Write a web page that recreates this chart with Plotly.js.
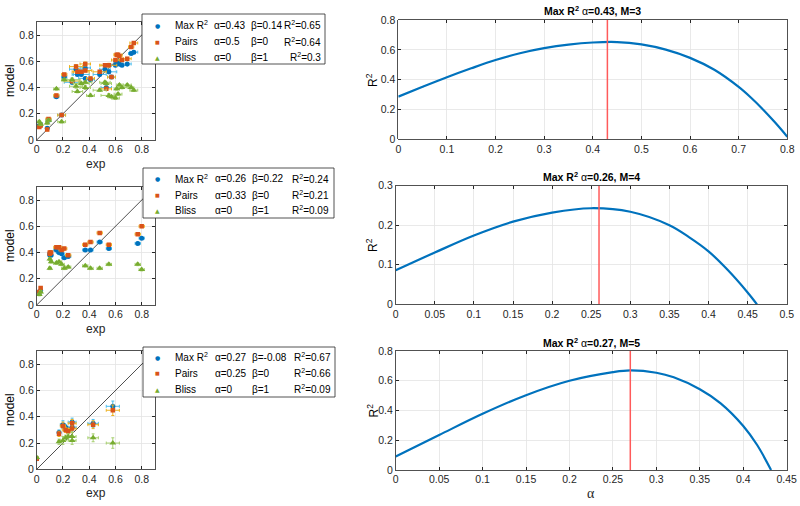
<!DOCTYPE html>
<html><head><meta charset="utf-8">
<script src="https://cdn.plot.ly/plotly-3.0.1.min.js"></script>
<style>body{margin:0;background:#fff}#c{width:800px;height:506px}</style>
</head><body><div id="c"></div>
<script>
// ---- scatter data (exp vs model) ----
const exp1    = [0.02,0.03,0.08,0.09,0.15,0.19,0.21,0.27,0.30,0.31,0.34,0.37,0.37,0.41,0.48,0.52,0.53,0.55,0.57,0.60,0.61,0.62,0.63,0.65,0.69,0.72,0.74];
const blue1   = [0.11,0.12,0.09,0.15,0.33,0.19,0.48,0.44,0.54,0.50,0.50,0.55,0.47,0.46,0.50,0.54,0.40,0.52,0.48,0.57,0.59,0.60,0.58,0.57,0.58,0.66,0.67];
const orange1 = [0.10,0.11,0.08,0.16,0.34,0.19,0.50,0.45,0.56,0.52,0.52,0.58,0.53,0.47,0.52,0.57,0.39,0.57,0.48,0.61,0.65,0.65,0.64,0.61,0.62,0.71,0.74];
const green1  = [0.14,0.12,0.13,0.15,0.39,0.14,0.46,0.46,0.41,0.37,0.43,0.40,0.44,0.34,0.38,0.44,0.43,0.34,0.33,0.32,0.39,0.35,0.42,0.40,0.42,0.40,0.38];
const xErr1   = [0.01,0.01,0.01,0.02,0.02,0.03,0.02,0.06,0.05,0.04,0.06,0.04,0.05,0.03,0.05,0.04,0.04,0.06,0.03,0.03,0.02,0.03,0.02,0.04,0.03,0.02,0.03];
const yErr1   = [0.01,0.01,0.01,0.01,0.01,0.01,0.01,0.015,0.015,0.01,0.01,0.015,0.01,0.01,0.01,0.01,0.01,0.015,0.01,0.01,0.01,0.01,0.01,0.01,0.01,0.01,0.01];

const exp2    = [0.02,0.03,0.10,0.10,0.11,0.15,0.17,0.19,0.21,0.24,0.37,0.41,0.48,0.55,0.77,0.80];
const blue2   = [0.09,0.11,0.39,0.38,0.38,0.42,0.40,0.39,0.36,0.37,0.42,0.42,0.48,0.43,0.47,0.51];
const orange2 = [0.10,0.13,0.40,0.39,0.40,0.44,0.44,0.42,0.43,0.38,0.46,0.48,0.55,0.46,0.54,0.60];
const green2  = [0.08,0.10,0.35,0.28,0.33,0.32,0.33,0.31,0.28,0.29,0.30,0.28,0.28,0.31,0.31,0.27];
const xErr2   = [0.01,0.01,0.01,0.01,0.01,0.02,0.02,0.02,0.02,0.02,0.02,0.02,0.02,0.02,0.02,0.02];
const yErr2   = [0.01,0.01,0.01,0.01,0.01,0.01,0.01,0.01,0.01,0.01,0.01,0.01,0.01,0.01,0.01,0.01];

const exp3    = [0.00,0.17,0.20,0.22,0.24,0.27,0.27,0.43,0.58];
const blue3   = [0.08,0.28,0.34,0.32,0.30,0.36,0.32,0.35,0.48];
const orange3 = [0.08,0.27,0.33,0.30,0.29,0.35,0.31,0.34,0.45];
const green3  = [0.09,0.21,0.22,0.24,0.25,0.25,0.22,0.24,0.20];
const xErr3   = [0.01,0.01,0.02,0.02,0.02,0.03,0.03,0.04,0.05];
const yErr3   = [0.01,0.02,0.03,0.02,0.02,0.03,0.03,0.03,0.04];

const diag = [0, 0.9];

// ---- R^2 vs alpha curves ----
const alpha1 = [0,0.05,0.1,0.15,0.2,0.25,0.3,0.35,0.4,0.45,0.5,0.55,0.6,0.65,0.7,0.725,0.75,0.775,0.8];
const r2c1   = [0.286,0.352,0.416,0.476,0.532,0.577,0.611,0.635,0.649,0.652,0.636,0.601,0.546,0.466,0.351,0.280,0.200,0.112,0.017];
const alpha2 = [0,0.05,0.1,0.15,0.2,0.25,0.3,0.35,0.375,0.4,0.425,0.45,0.462];
const r2c2   = [0.086,0.131,0.174,0.209,0.232,0.243,0.234,0.200,0.170,0.134,0.086,0.030,0.0];
const alpha3 = [0,0.05,0.1,0.15,0.2,0.25,0.27,0.3,0.32,0.35,0.374,0.4,0.416,0.432];
const r2c3   = [0.09,0.235,0.378,0.503,0.600,0.658,0.670,0.654,0.623,0.543,0.448,0.296,0.168,0.0];
const alphaMax = [0.43, 0.26, 0.27];
const Mvals = [3, 4, 5];

// legend table values
const seriesNames = ['Max R<sup>2</sup>', 'Pairs', 'Bliss'];
const legAlpha = [['0.43','0.5','0'], ['0.26','0.33','0'], ['0.27','0.25','0']];
const legBeta  = [['0.14','0','1'], ['0.22','0','1'], ['-0.08','0','1']];
const legR2    = [['0.65','0.64','0.3'], ['0.24','0.21','0.09'], ['0.67','0.66','0.09']];

const C_BLUE='#0072BD', C_ORANGE='#D95319', C_GREEN='#77AC30';
const E_BLUE='#4DBEEE', E_ORANGE='#EDB120', E_GREEN='#A6CF6E';
const W=800, H=506;
const px = x => x/W, py = y => 1 - y/H;

const traces = [];
function scat(ax, x, ys, xe, ye){
  const xa='x'+(ax===1?'':ax), ya='y'+(ax===1?'':ax);
  traces.push({x:diag, y:diag, xaxis:xa, yaxis:ya, mode:'lines', line:{color:'#222',width:0.8}, hoverinfo:'skip'});
  const spec=[[ys[0],C_BLUE,E_BLUE,'circle',5],[ys[1],C_ORANGE,E_ORANGE,'square',4.5],[ys[2],C_GREEN,E_GREEN,'triangle-up',6]];
  spec.forEach(s=>{
    traces.push({x:x, y:s[0], xaxis:xa, yaxis:ya, mode:'markers', type:'scatter',
      marker:{color:s[1], symbol:s[3], size:s[4]},
      error_x:{type:'data', array:xe, color:s[2], thickness:1, width:1.5},
      error_y:{type:'data', array:ye, color:s[2], thickness:1, width:1.5},
      cliponaxis:true});
  });
}
scat(1, exp1, [blue1,orange1,green1], xErr1, yErr1);
scat(2, exp2, [blue2,orange2,green2], xErr2, yErr2);
scat(3, exp3, [blue3,orange3,green3], xErr3, yErr3);

const curves=[[alpha1,r2c1,0.8],[alpha2,r2c2,0.3],[alpha3,r2c3,0.8]];
curves.forEach((c,i)=>{
  const n=4+i;
  traces.push({x:c[0], y:c[1], xaxis:'x'+n, yaxis:'y'+n, mode:'lines', line:{color:C_BLUE,width:2.2,shape:'spline',smoothing:1}});
  traces.push({x:[alphaMax[i],alphaMax[i]], y:[0,c[2]], xaxis:'x'+n, yaxis:'y'+n, mode:'lines', line:{color:'#FF5A5A',width:1.5}});
});

const tickFont={family:'Liberation Sans, Arial, sans-serif', size:10.5, color:'#262626'};
function ax(domain, range, dtick, anchor){
  return {domain:domain, range:range, dtick:dtick, tick0:0, anchor:anchor, showline:true, mirror:'ticks',
    linecolor:'#262626', linewidth:0.8, ticks:'inside', ticklen:3, tickcolor:'#262626',
    showgrid:true, gridcolor:'#e3e3e3', gridwidth:0.8, zeroline:false, tickfont:tickFont, fixedrange:true};
}
const L=[px(36.7), px(154.8)];
const layout={width:W, height:H, margin:{l:0,r:0,t:0,b:0}, showlegend:false, paper_bgcolor:'#fff', plot_bgcolor:'#fff',
  xaxis: ax(L,[0,0.9],0.2,'y'),  yaxis: ax([py(140),py(22)],[0,0.9],0.2,'x'),
  xaxis2:ax(L,[0,0.9],0.2,'y2'), yaxis2:ax([py(305),py(187)],[0,0.9],0.2,'x2'),
  xaxis3:ax(L,[0,0.9],0.2,'y3'), yaxis3:ax([py(469.3),py(351.2)],[0,0.9],0.2,'x3'),
  xaxis4:ax([px(398.3),px(787.3)],[0,0.8],0.1,'y4'), yaxis4:ax([py(139.3),py(20)],[0,0.8],0.2,'x4'),
  xaxis5:ax([px(395.7),px(786.7)],[0,0.5],0.05,'y5'), yaxis5:ax([py(304.3),py(185.7)],[0,0.3],0.1,'x5'),
  xaxis6:ax([px(395.7),px(786.7)],[0,0.45],0.05,'y6'), yaxis6:ax([py(470),py(351)],[0,0.8],0.2,'x6'),
  shapes:[], annotations:[]};

const F='Liberation Sans, Arial, sans-serif';
function ann(x,y,text,o){
  layout.annotations.push(Object.assign({xref:'paper',yref:'paper',x:px(x),y:py(y),text:text,showarrow:false,
    xanchor:'center',yanchor:'middle',font:{family:F,size:10,color:'#000'}},o||{}));
}
// axis labels
[[81,164],[246,329],[410,493]].forEach(p=>{
  ann(10,p[0],'model',{textangle:-90,font:{family:F,size:12,color:'#000'}});
  ann(95.7,p[1],'exp',{font:{family:F,size:12,color:'#262626'}});
});
[[80],[245],[410.5]].forEach(p=>ann(372,p[0],'R<sup>2</sup>',{textangle:-90,font:{family:F,size:12,color:'#000'}}));
ann(591,493,'α',{font:{family:'Liberation Serif, serif',size:14,color:'#262626'}});
// titles
[[592.8,11],[591.2,176],[591.2,342.7]].forEach((p,i)=>{
  ann(p[0],p[1],'<b>Max R<sup>2</sup></b> α<b>='+alphaMax[i]+', M='+Mvals[i]+'</b>',{font:{family:F,size:10.5,color:'#000'}});
});
// legend boxes
const legs=[{x0:142,x1:325,y0:14,y1:64,rows:[25,42,57],aX:212,bX:249,rX:323},
            {x0:143,x1:334,y0:168,y1:218,rows:[179,195,210],aX:213,bX:250,rX:331},
            {x0:143,x1:335,y0:347,y1:397,rows:[357,373,389],aX:213,bX:250,rX:333}];
const mk=[['●',C_BLUE,6],['■',C_ORANGE,5],['▲',C_GREEN,6]];
legs.forEach((g,k)=>{
  layout.shapes.push({type:'rect',xref:'paper',yref:'paper',x0:px(g.x0),x1:px(g.x1),y0:py(g.y1),y1:py(g.y0),
    fillcolor:'#fff',line:{color:'#262626',width:0.8},layer:'above'});
  g.rows.forEach((ry,r)=>{
    ann(157,ry,mk[r][0],{font:{family:'DejaVu Sans',size:mk[r][2],color:mk[r][1]}});
    ann(173,ry,seriesNames[r],{xanchor:'left'});
    ann(g.aX,ry,'α='+legAlpha[k][r],{xanchor:'left'});
    ann(g.bX,ry,'β='+legBeta[k][r],{xanchor:'left'});
    ann(g.rX,ry,'R<sup>2</sup>='+legR2[k][r],{xanchor:'right'});
  });
});

Plotly.newPlot('c', traces, layout, {staticPlot:true, displayModeBar:false});
</script></body></html>
